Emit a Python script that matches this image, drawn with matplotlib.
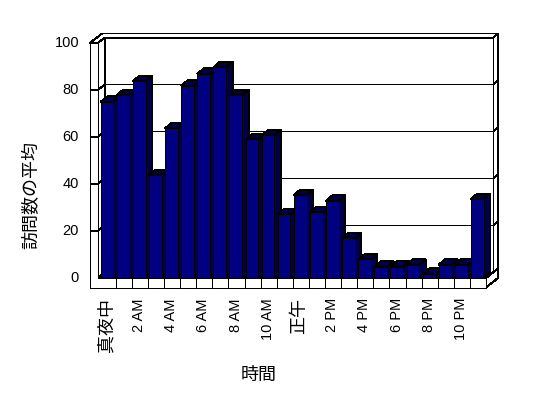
import numpy as np
import matplotlib.pyplot as plt
from matplotlib.patches import Polygon

plt.rcParams['font.family'] = ['Liberation Sans', 'Noto Sans CJK JP']

# average visits per hour
hours = list(range(24))
visits = [75.0, 77.9, 83.8, 43.8, 63.7, 81.8, 86.9, 89.7, 77.9, 59.1, 60.7, 27.2,
          35.3, 28.0, 32.9, 16.9, 7.9, 4.8, 4.8, 5.7, 1.8, 5.7, 5.7, 33.7]
hour_labels = ["真夜中", "2 AM", "4 AM", "6 AM", "8 AM", "10 AM",
               "正午", "2 PM", "4 PM", "6 PM", "8 PM", "10 PM"]
y_ticks = [0, 20, 40, 60, 80, 100]

fig = plt.figure(figsize=(5.48, 3.98), dpi=100)
ax = fig.add_axes([90 / 548, 120 / 398, 396 / 548, 235 / 398])
x_min, x_max = -1.1, 23.5
ax.set_xlim(x_min, x_max)
ax.set_ylim(0, 100)
ax.axis('off')

# pixel -> data unit sizes
PX = (x_max - x_min) / 396
PY = 100 / 235
d1 = (7.5 * PX, 5.5 * PY)    # back wall front face
d2 = (12 * PX, 9.5 * PY)     # back of the walls / floor
bd = (6.5 * PX, 5.3 * PY)    # bar depth
x_in = -0.5 - 2 * PX         # inner face of left wall
floor_lo = -9.5 * PY

DARK = '#000048'
NAVY = '#000080'
LW = 0.72


def face(pts, fc='white', z=1):
    ax.add_patch(Polygon(pts, closed=True, facecolor=fc, edgecolor='black',
                         lw=LW, clip_on=False, zorder=z, antialiased=False))


def line(xs, ys, z=2):
    ax.plot(xs, ys, color='black', lw=LW, clip_on=False, zorder=z,
            antialiased=False, solid_capstyle='butt')


# back wall
face([(x_in + d1[0], d1[1]), (x_max + d1[0], d1[1]),
      (x_max + d1[0], 100 + d1[1]), (x_in + d1[0], 100 + d1[1])])
# top slab of walls
face([(x_min, 100), (x_in, 100), (x_in + d1[0], 100 + d1[1]),
      (x_max + d1[0], 100 + d1[1]), (x_max + d2[0], 100 + d2[1]),
      (x_min + d2[0], 100 + d2[1])])
line([x_in, x_in + d1[0]], [100, 100 + d1[1]])
# right side of back wall
face([(x_max + d1[0], d1[1]), (x_max + d1[0], 100 + d1[1]),
      (x_max + d2[0], 100 + d2[1]), (x_max + d2[0], d2[1])])
# floor top and right side
face([(x_in, 0), (x_max, 0), (x_max + d1[0], d1[1]), (x_in + d1[0], d1[1])])
face([(x_max, floor_lo), (x_max, 0), (x_max + d2[0], d2[1]),
      (x_max + d2[0], floor_lo + d2[1])])
# inner face of left wall
face([(x_in, 0), (x_in, 100), (x_in + d1[0], 100 + d1[1]), (x_in + d1[0], d1[1])])
# front of left wall + floor
face([(x_min, floor_lo), (x_max, floor_lo), (x_max, 0), (x_in, 0),
      (x_in, 100), (x_min, 100)])

# gridlines
for t in y_ticks[1:-1]:
    line([x_min, x_in, x_in + d1[0], x_max + d1[0], x_max + d2[0]],
         [t, t, t + d1[1], t + d1[1], t + d2[1]])
for t in y_ticks:
    ax.text(x_min - 11 * PX, t, str(t), ha='right', va='center', fontsize=10.5)

# category dividers on the floor
for k in range(23):
    line([k + 0.5, k + 0.5], [floor_lo, 0])

# bars
w = 12.7 * PX
for i, v in zip(hours, visits):
    x0 = i - 0.5 + PX
    x1 = x0 + w
    z = 3 + i * 0.01
    face([(x1, 0), (x1, v), (x1 + bd[0], v + bd[1]), (x1 + bd[0], bd[1])], DARK, z)
    face([(x0, v), (x1, v), (x1 + bd[0], v + bd[1]), (x0 + bd[0], v + bd[1])], DARK, z)
    face([(x0, 0), (x1, 0), (x1, v), (x0, v)], NAVY, z)

for j, lab in enumerate(hour_labels):
    cjk = not any(c.isascii() and c.isalnum() for c in lab)
    ax.text(hours[2 * j] - 0.05, floor_lo - 10.5 * PY, lab, rotation=90,
            ha='center', va='top', fontsize=13 if cjk else 10.5)

fig.text(32 / 548, 1 - 195 / 398, '訪問数の平均', rotation=90,
         ha='center', va='center', fontsize=13)
fig.text(259 / 548, 1 - 375 / 398, '時間', ha='center', va='center', fontsize=13)

fig.savefig('out.png', dpi=100)
